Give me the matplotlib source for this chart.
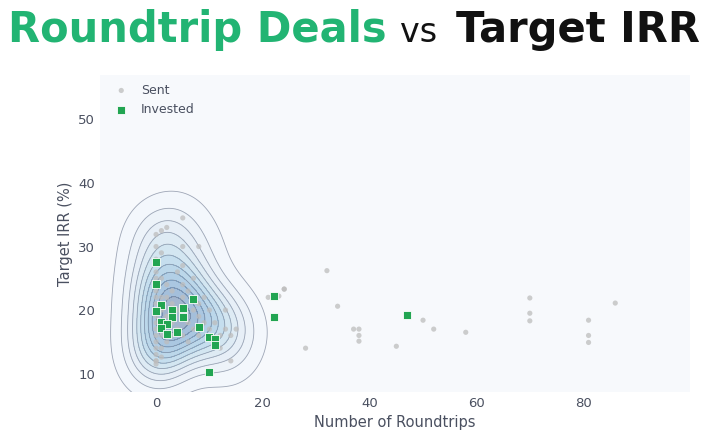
import numpy as np
import matplotlib
matplotlib.use("Agg")
import matplotlib.pyplot as plt

sent_x = [0,0,0,0,0,0,0,0,0,0,0,0,0,0,0,0,0,1,1,2,1,1,1,1,1,2,2,2,2,3,3,3,3,4,4,4,5,5,5,5,5,5,5,6,6,6,7,7,7,8,8,8,8,9,9,10,10,11,12,12,13,14,14,15,13,21,24,1,0,
          32,24,23,34,50,52,37,38,38,38,28,45,58,70,70,70,81,81,81,86]
sent_y = [31.9,30,28,26,25,23,22,21,19,18,17,16,15,14,13,12,11.5,32.5,29,33,25,22,20,16,14,24,22,19,15,23,21,18,16,26,20,17,34.5,30,27,24,22,19,16,23,18,15,25,20,17,30,21,19,16,22,18,20,17,18,16,14,17,16,12,17,20,22,23.3,12.6,12,
          26.2,23.3,22.2,20.6,18.4,17,17,17,16,15.1,14,14.3,16.5,21.9,19.5,18.3,18.4,16,14.9,21.1]
inv_x = [0,0,1,0,3,5,3,5,1,2,1,2,4,7,8,10,11,11,10,22,22,47]
inv_y = [27.5,24.1,20.8,19.8,20,20.3,18.9,18.9,18.1,17.8,17.1,16.2,16.5,21.8,17.3,15.7,15.5,14.5,10.2,22.2,18.9,19.2]

fig = plt.figure(figsize=(7.2, 4.41), dpi=100)
fig.patch.set_facecolor("white")
ax = fig.add_axes([100/720, 1-392/441, 590/720, 317/441])
ax.set_facecolor("#f7f9fc")
for s in ax.spines.values():
    s.set_visible(False)

# KDE of sent points (cluster region only)
sx = np.array(sent_x, float); sy = np.array(sent_y, float)
m = sx < 20
sx, sy = sx[m], sy[m]
gx, gy = np.meshgrid(np.linspace(-15, 45, 300), np.linspace(0, 45, 300))
hx, hy = 4.0, 3.6
Z = np.zeros_like(gx)
for a, b in zip(sx, sy):
    Z += np.exp(-0.5*(((gx-a)/hx)**2 + ((gy-b)/hy)**2))
Z /= Z.max()
levels = np.linspace(0.05, 1.0, 12)
ax.contourf(gx, gy, Z, levels=levels, cmap="Blues", alpha=0.35, zorder=1)
ax.contour(gx, gy, Z, levels=levels, colors="#8a92a4", linewidths=0.6, alpha=0.8, zorder=2)

ax.scatter(sent_x, sent_y, s=14, color="#bdbdbd", alpha=0.75, edgecolors="none", zorder=3, label="Sent")
ax.scatter(inv_x, inv_y, s=36, marker="s", color="#22a552", edgecolors="white", linewidths=0.6, zorder=4, label="Invested")

ax.set_xlim(-10.5, 100)
ax.set_ylim(7.1, 57)
ax.set_xticks([0, 20, 40, 60, 80])
ax.set_yticks([10, 20, 30, 40, 50])
ax.tick_params(length=0, labelsize=9.5, colors="#4a5060")
ax.set_xlabel("Number of Roundtrips", fontsize=10.5, color="#4a5060")
ax.set_ylabel("Target IRR (%)", fontsize=10.5, color="#4a5060")
ax.legend(loc="upper left", frameon=False, fontsize=9, labelcolor="#4a5060",
          handletextpad=0.6, borderaxespad=0.3)

fig.text(8/720, 1-30/441, "Roundtrip Deals", fontsize=30, fontweight="bold", color="#22b473", va="center")
fig.text(400/720, 1-32/441, "vs", fontsize=24, color="#111111", va="center")
fig.text(456/720, 1-30/441, "Target IRR", fontsize=30, fontweight="bold", color="#111111", va="center")

fig.savefig("out.png", dpi=100)
